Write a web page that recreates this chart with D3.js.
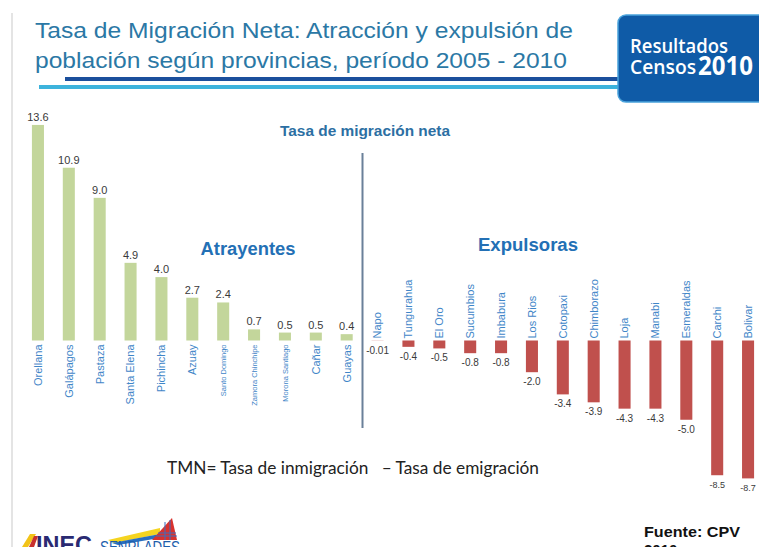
<!DOCTYPE html>
<html>
<head>
<meta charset="utf-8">
<script src="https://cdn.jsdelivr.net/npm/d3@7"></script>
<style>
  body { margin: 0; background: #fff; }
  svg { display: block; font-family: "Liberation Sans", Arial, sans-serif; }
</style>
</head>
<body>
<svg id="chart"></svg>
<script>
// provinces, ordered as in the slide (atrayentes first, then expulsoras)
const provinces = ['Orellana', 'Galápagos', 'Pastaza', 'Santa Elena', 'Pichincha', 'Azuay',
  'Santo Domingo', 'Zamora Chinchipe', 'Morona Santiago', 'Cañar', 'Guayas',
  'Napo', 'Tungurahua', 'El Oro', 'Sucumbios', 'Imbabura', 'Los Rios', 'Cotopaxi',
  'Chimborazo', 'Loja', 'Manabi', 'Esmeraldas', 'Carchi', 'Bolivar'];

// tasa de migracion neta 2005 - 2010
const tmn = [13.6, 10.9, 9.0, 4.9, 4.0, 2.7, 2.4, 0.7, 0.5, 0.5, 0.4,
  -0.01, -0.4, -0.5, -0.8, -0.8, -2.0, -3.4, -3.9, -4.3, -4.3, -5.0, -8.5, -8.7];

const titleLines = ['Tasa de Migración Neta: Atracción y expulsión de',
  'población según provincias, período 2005 - 2010'];
const groupLabels = ['Atrayentes', 'Expulsoras'];

class MigrationChart {

  constructor(_config, _data) {
    this.config = {
      parentElement: _config.parentElement,
      containerWidth: _config.containerWidth || 759,
      containerHeight: _config.containerHeight || 547
    };
    this.data = _data;
    this.initVis();
  }

  initVis() {
    let vis = this;

    vis.svg = d3.select(vis.config.parentElement)
        .attr('width', vis.config.containerWidth)
        .attr('height', vis.config.containerHeight);

    // light grey slide border on the left
    vis.svg.append('line')
        .attr('x1', 12).attr('x2', 12)
        .attr('y1', 13).attr('y2', 547)
        .attr('stroke', '#e4e4e4')
        .attr('stroke-width', 2);

    // title
    vis.svg.selectAll('.title')
      .data(titleLines)
      .join('text')
        .attr('class', 'title')
        .attr('x', 35)
        .attr('y', (d, i) => 38 + i * 30)
        .attr('textLength', (d, i) => i == 0 ? 538 : 532)
        .attr('lengthAdjust', 'spacingAndGlyphs')
        .style('font-size', '22px')
        .style('fill', '#2b78a5')
        .text(d => d);

    // underline bars
    vis.svg.append('rect')
        .attr('x', 65).attr('y', 77)
        .attr('width', 560).attr('height', 4)
        .attr('fill', '#1b4f9c');
    vis.svg.append('rect')
        .attr('x', 39).attr('y', 85)
        .attr('width', 586).attr('height', 4)
        .attr('fill', '#3db3dc');

    // "Resultados Censos 2010" badge
    vis.svg.append('rect')
        .attr('x', 618).attr('y', 15)
        .attr('width', 150).attr('height', 87)
        .attr('rx', 8)
        .attr('fill', '#0f5ba7')
        .attr('stroke', '#4aa3dc')
        .attr('stroke-width', 1.5);
    vis.svg.append('text')
        .attr('x', 630).attr('y', 53)
        .attr('textLength', 98).attr('lengthAdjust', 'spacingAndGlyphs')
        .style('font-family', '"Open Sans", sans-serif')
        .style('font-weight', 600)
        .style('font-size', '19px')
        .style('fill', '#fff')
        .text('Resultados');
    vis.svg.append('text')
        .attr('x', 630).attr('y', 74)
        .attr('textLength', 66).attr('lengthAdjust', 'spacingAndGlyphs')
        .style('font-family', '"Open Sans", sans-serif')
        .style('font-weight', 600)
        .style('font-size', '19px')
        .style('fill', '#fff')
        .text('Censos');
    vis.svg.append('text')
        .attr('x', 698).attr('y', 75)
        .attr('textLength', 55).attr('lengthAdjust', 'spacingAndGlyphs')
        .style('font-family', '"Open Sans", sans-serif')
        .style('font-weight', 700)
        .style('font-size', '27px')
        .style('fill', '#fff')
        .text('2010');

    // Scales
    vis.xScale = d3.scaleBand()
        .domain(provinces)
        .range([22.5, 763.5])
        .paddingInner(0.61)
        .paddingOuter(0.305);

    // 15.85 px per point, zero line at 340.5
    vis.yScale = d3.scaleLinear()
        .domain([-10, 14])
        .range([340.5 + 10 * 15.85, 340.5 - 14 * 15.85]);

    vis.chart = vis.svg.append('g');

    // chart subtitle + divider
    vis.svg.append('text')
        .attr('x', 365).attr('y', 136)
        .attr('text-anchor', 'middle')
        .attr('textLength', 170).attr('lengthAdjust', 'spacingAndGlyphs')
        .style('font-size', '14.5px')
        .style('font-weight', 'bold')
        .style('fill', '#2c6fa3')
        .text('Tasa de migración neta');

    vis.svg.append('line')
        .attr('x1', 362.5).attr('x2', 362.5)
        .attr('y1', 153).attr('y2', 428)
        .attr('stroke', '#6a8099')
        .attr('stroke-width', 2);

    vis.svg.selectAll('.group-label')
      .data(groupLabels)
      .join('text')
        .attr('class', 'group-label')
        .attr('x', (d, i) => i == 0 ? 248 : 528)
        .attr('y', (d, i) => i == 0 ? 255 : 251)
        .attr('text-anchor', 'middle')
        .attr('textLength', (d, i) => i == 0 ? 95 : 100)
        .attr('lengthAdjust', 'spacingAndGlyphs')
        .style('font-size', '18px')
        .style('font-weight', 'bold')
        .style('fill', '#2370b5')
        .text(d => d);

    // formula
    vis.svg.append('text')
        .attr('x', 167).attr('y', 474)
        .attr('xml:space', 'preserve')
        .attr('textLength', 372).attr('lengthAdjust', 'spacingAndGlyphs')
        .style('font-family', 'Lato, "Open Sans", sans-serif')
        .style('font-size', '17px')
        .style('fill', '#222')
        .text('TMN= Tasa de inmigración   – Tasa de emigración');

    // source
    vis.svg.append('text')
        .attr('x', 644).attr('y', 537)
        .attr('textLength', 96).attr('lengthAdjust', 'spacingAndGlyphs')
        .style('font-size', '15px')
        .style('font-weight', 'bold')
        .style('fill', '#111')
        .text('Fuente: CPV');
    vis.svg.append('text')
        .attr('x', 644).attr('y', 555)
        .style('font-size', '15px')
        .style('font-weight', 'bold')
        .style('fill', '#111')
        .text('2010');

    // logos (rough)
    vis.svg.append('polygon')
        .attr('points', '22,547 30,534 36,534 28,547')
        .attr('fill', '#f2c318');
    vis.svg.append('polygon')
        .attr('points', '29,547 34,536 38,536 34,547')
        .attr('fill', '#c9302c');
    vis.svg.append('text')
        .attr('x', 36).attr('y', 553)
        .attr('textLength', 56).attr('lengthAdjust', 'spacingAndGlyphs')
        .style('font-size', '24px')
        .style('font-weight', 'bold')
        .style('fill', '#2a2a72')
        .text('INEC');
    vis.svg.append('polygon')
        .attr('points', '108,540 160,528 160,534 114,543')
        .attr('fill', '#f5d420');
    vis.svg.append('polygon')
        .attr('points', '112,543 160,534 160,538 118,545')
        .attr('fill', '#2a6fc0');
    vis.svg.append('polygon')
        .attr('points', '152,540 172,518 177,540')
        .attr('fill', '#d8322e');
    vis.svg.append('path')
        .attr('d', 'M158,533 L176,533 M156,536 L177,536 M165,522 L165,540 M170,520 L170,540')
        .attr('stroke', '#3a6fc0')
        .attr('stroke-width', 1);
    vis.svg.append('text')
        .attr('x', 100).attr('y', 553)
        .attr('textLength', 80).attr('lengthAdjust', 'spacingAndGlyphs')
        .style('font-size', '17px')
        .style('fill', '#1d5eab')
        .text('SENPLADES');

    vis.updateVis();
  }

  updateVis() {
    let vis = this;
    vis.renderVis();
  }

  renderVis() {
    let vis = this;
    const y0 = vis.yScale(0);
    const cx = d => vis.xScale(d.name) + vis.xScale.bandwidth() / 2;

    // Bars
    vis.chart.selectAll('.bar')
      .data(vis.data)
      .join('rect')
        .attr('class', 'bar')
        .attr('x', d => vis.xScale(d.name))
        .attr('width', vis.xScale.bandwidth())
        .attr('y', d => Math.min(vis.yScale(d.value), y0))
        .attr('height', d => Math.abs(vis.yScale(d.value) - y0))
        .attr('fill', d => d.value >= 0 ? '#c3d69b' : '#c0504d');

    // value labels
    vis.chart.selectAll('.value')
      .data(vis.data)
      .join('text')
        .attr('class', 'value')
        .attr('x', cx)
        .attr('y', d => d.value >= 0 ? vis.yScale(d.value) - 4 : vis.yScale(d.value) + 13)
        .attr('text-anchor', 'middle')
        .style('font-size', d => d.value >= 0 ? '11px' : (d.value < -8 ? '9px' : '10px'))
        .style('fill', '#3a3a3a')
        .text(d => Math.abs(d.value) < 0.1 ? d.value.toFixed(2) : d.value.toFixed(1));

    // province names, rotated
    vis.chart.selectAll('.name')
      .data(vis.data)
      .join('text')
        .attr('class', 'name')
        .attr('transform', d => `translate(${cx(d)},${d.value >= 0 ? y0 + 4 : y0 - 2}) rotate(-90)`)
        .attr('dy', '0.35em')
        .attr('text-anchor', d => d.value >= 0 ? 'end' : 'start')
        .style('font-size', d => d.name.length > 12 ? '7.5px' : '11px')
        .style('fill', '#3f86c8')
        .text(d => d.name);
  }
}

const data = provinces.map((p, i) => ({ name: p, value: tmn[i] }));
new MigrationChart({ parentElement: '#chart', containerWidth: 759, containerHeight: 547 }, data);
</script>
</body>
</html>
